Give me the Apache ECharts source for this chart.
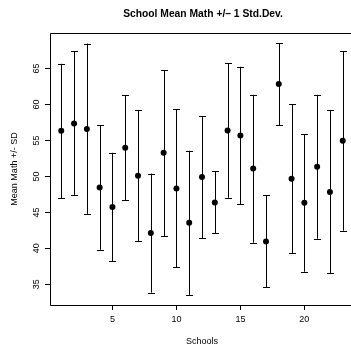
<!DOCTYPE html>
<html>
<head>
<meta charset="utf-8">
<script src="https://cdn.jsdelivr.net/npm/echarts@6/dist/echarts.min.js"></script>
<style>html,body{margin:0;padding:0;background:#fff}#c{width:351px;height:346px}</style>
</head>
<body>
<div id="c"></div>
<script>
const schools = [1,2,3,4,5,6,7,8,9,10,11,12,13,14,15,16,17,18,19,20,21,22,23];
const means = [56.35,57.36,56.6,48.47,45.75,53.99,50.1,42.14,53.29,48.33,43.57,49.92,46.39,56.39,55.7,51.11,40.97,62.83,49.68,46.35,51.35,47.83,54.96];
const upper = [65.65,67.4,68.47,57.08,53.29,61.25,59.2,50.4,64.78,59.3,53.57,58.33,50.75,65.75,65.24,61.35,47.36,68.53,60.06,55.89,61.35,59.22,67.41];
const lower = [47.0,47.4,44.8,39.8,38.25,46.67,40.97,33.85,41.72,37.36,33.53,41.44,42.08,47.04,46.17,40.79,34.58,57.14,39.31,36.76,41.35,36.53,42.46];
const yTicks = [35,40,45,50,55,60,65];
const xTicks = [5,10,15,20];

const FONT = '"Liberation Sans", Arial, Helvetica, sans-serif';
const chart = echarts.init(document.getElementById('c'), null, {renderer:'canvas'});

const barData = schools.map((s,i)=>[s, lower[i], upper[i]]);
const ptData = schools.map((s,i)=>[s, means[i]]);

chart.setOption({
  animation:false,
  backgroundColor:'#fff',
  grid:{left:50, top:33, width:304, height:272, show:false, outerBoundsMode:'none', containLabel:false},
  xAxis:{
    type:'value', min:0.12, max:23.88,
    axisLine:{show:false},
    splitLine:{show:false},
    axisTick:{show:true, length:5, inside:false, lineStyle:{color:'#000', width:1}, customValues:xTicks},
    axisLabel:{show:true, customValues:xTicks, fontSize:9, color:'#000', fontFamily:FONT, margin:10}
  },
  yAxis:{
    type:'value', min:32.13, max:69.93,
    axisLine:{show:false},
    splitLine:{show:false},
    axisTick:{show:true, length:5, inside:false, lineStyle:{color:'#000', width:1}, customValues:yTicks},
    axisLabel:{show:true, customValues:yTicks, rotate:90, fontSize:9, color:'#000', fontFamily:FONT, margin:9}
  },
  graphic:[
    {type:'rect', shape:{x:50.5, y:33.5, width:304, height:272}, style:{fill:null, stroke:'#000', lineWidth:1}, z:10},
    {type:'text', x:203, y:14, style:{text:'School Mean Math +/\u2013 1 Std.Dev.', font:'bold 10.3px '+FONT, fill:'#000', textAlign:'center', textVerticalAlign:'middle'}},
    {type:'text', x:202, y:342, style:{text:'Schools', font:'9px '+FONT, fill:'#000', textAlign:'center', textVerticalAlign:'middle'}},
    {type:'text', x:15, y:169, rotation:Math.PI/2, style:{text:'Mean Math +/- SD', font:'9px '+FONT, fill:'#000', textAlign:'center', textVerticalAlign:'middle'}}
  ],
  series:[
    {
      type:'custom',
      data:barData,
      encode:{x:0, y:[1,2]},
      renderItem:function(params, api){
        const x = api.value(0);
        const lo = api.coord([x, api.value(1)]);
        const hi = api.coord([x, api.value(2)]);
        const cx = Math.round(lo[0]) + 0.5;
        const w = 3.5;
        const st = {stroke:'#000', lineWidth:1};
        return {type:'group', children:[
          {type:'line', shape:{x1:cx, y1:lo[1], x2:cx, y2:hi[1]}, style:st},
          {type:'line', shape:{x1:cx-w, y1:Math.round(lo[1])+0.5, x2:cx+w, y2:Math.round(lo[1])+0.5}, style:st},
          {type:'line', shape:{x1:cx-w, y1:Math.round(hi[1])+0.5, x2:cx+w, y2:Math.round(hi[1])+0.5}, style:st}
        ]};
      },
      z:2
    },
    {
      type:'scatter',
      data:ptData,
      symbol:'circle',
      symbolSize:6,
      itemStyle:{color:'#000', opacity:1},
      z:3
    }
  ]
});
</script>
</body>
</html>
